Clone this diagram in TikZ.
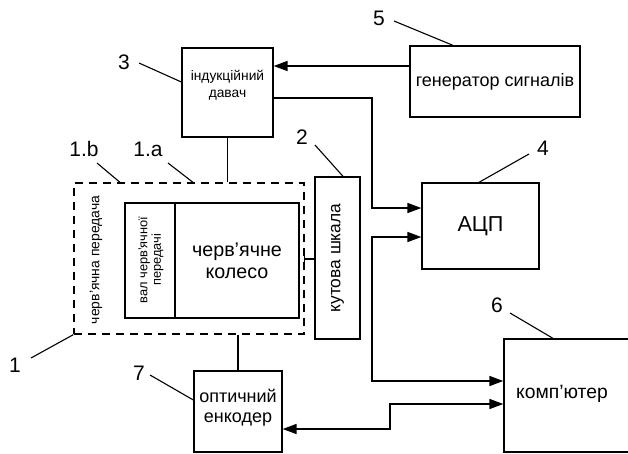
\documentclass[tikz,border=0pt]{standalone}
\usepackage{fontspec}
\setmainfont{Liberation Sans}
\usetikzlibrary{arrows.meta,calc}
\newcommand{\fs}[1]{\fontsize{#1pt}{\dimexpr #1pt*6/5\relax}\selectfont}
\newcommand{\fst}[1]{\fontsize{#1pt}{\dimexpr #1pt*11/10\relax}\selectfont}
\begin{document}
\begin{tikzpicture}[x=1pt,y=-1pt,
  box/.style={draw,line width=1.3pt,inner sep=0pt,align=center},
  txt/.style={inner sep=0pt,align=center},
  lead/.style={line width=1.1pt},
  conn/.style={line width=1.6pt},
  tip/.style={-{Triangle[length=14pt,width=10pt]}},
  tips/.style={{Triangle[length=14pt,width=10pt]}-{Triangle[length=14pt,width=10pt]}},
  num/.style={inner sep=0pt,font=\fs{21}}]
\clip (0,0) rectangle (628,453);
\useasboundingbox (0,0) rectangle (628,453);
% boxes
\node[box,minimum width=91,minimum height=89] (ind) at (227.5,92.5) {};
\node[txt,font=\fs{13.8}] (indt) at (227.5,85) {індукційний\\давач};
\node[box,minimum width=170,minimum height=71,font=\fs{18}] (gen) at (495,81.5) {генератор сигналів};
\node[box,minimum width=117,minimum height=86,font=\fs{21.6}] (adc) at (480.5,226) {АЦП};
\node[box,minimum width=45,minimum height=162] (scale) at (337.5,258) {};
\node[txt,rotate=90,font=\fs{17.4}] (scalet) at (337.5,258) {кутова шкала};
\node[draw,line width=1.3pt,dash pattern=on 8pt off 6pt,minimum width=230,minimum height=151] (gear) at (189,258.5) {};
\node[txt,rotate=90,font=\fs{13.9}] (geart) at (96,260) {черв’ячна передача};
\node[box,minimum width=50,minimum height=115] (shaft) at (150,260.5) {};
\node[txt,rotate=90,font=\fontsize{12.8pt}{13.5pt}\selectfont] (shaftt) at (151,260) {вал черв’ячної\\передачі};
\node[box,minimum width=124,minimum height=115,font=\fst{19.7}] (wheel) at (237,260.5) {черв’ячне\\колесо};
\node[box,minimum width=88,minimum height=81] (enc) at (238,411.5) {};
\node[txt,font=\fst{18}] (enct) at (238,408) {оптичний\\енкодер};
\node[box,minimum width=140,minimum height=113] (comp) at (574,395.5) {};
\node[txt,font=\fs{19.3}] (compt) at (562,394) {комп’ютер};
% level coordinates
\coordinate (y66) at (0,66);
\coordinate (y98) at (0,98);
\coordinate (y208) at (0,208);
\coordinate (y237) at (0,237);
\coordinate (y259) at (0,259);
\coordinate (y381) at (0,381);
\coordinate (y404) at (0,404);
\coordinate (y429) at (0,429);
\coordinate (xa) at (372,0);
\coordinate (xb) at (390,0);
% connectors
\draw[conn,tip] (gen.west |- y66) -- (ind.east |- y66);
\draw[conn,tip] (ind.east |- y98) -- (xa |- y98) -- (xa |- y208) -- (adc.west |- y208);
\draw[conn,tips] (adc.west |- y237) -- (xa |- y237) -- (xa |- y381) -- (comp.west |- y381);
\draw[conn,tips] (enc.east |- y429) -- (xb |- y429) -- (xb |- y404) -- (comp.west |- y404);
\draw[lead] (ind.south) -- (ind.south |- gear.north);
\draw[lead] (enc.north |- gear.south) -- (enc.north);
\draw[lead] (gear.east |- y259) -- (scale.west |- y259);
\draw[lead] ($(gear.east |- y259)+(0,-4)$) -- ($(gear.east |- y259)+(0,4)$);
% labels
\node[num] (n3) at (124,62) {3};
\draw[lead] ($(n3)+(15,1)$) -- (ind.west |- 0,82);
\node[num] (n5) at (379,18) {5};
\draw[lead] ($(n5)+(15,3)$) -- (gen.north -| 453,0);
\node[num] (n2) at (302,137) {2};
\draw[lead] ($(n2)+(13,8)$) -- (scale.north -| 343,0);
\node[num] (n4) at (543,148) {4};
\draw[lead] ($(n4)+(-14,6)$) -- (adc.north -| 479,0);
\node[num] (n1b) at (84,149) {1.b};
\draw[lead] ($(n1b)+(13,14)$) -- (gear.north -| 120,0);
\node[num] (n1a) at (148,149) {1.a};
\draw[lead] ($(n1a)+(20,14)$) -- (gear.north -| 193,0);
\node[num] (n1) at (15,365) {1};
\draw[lead] ($(n1)+(16,-7)$) -- (gear.south west);
\node[num] (n7) at (139,373) {7};
\draw[lead] ($(n7)+(11,2)$) -- (enc.west |- 0,400);
\node[num] (n6) at (497,305) {6};
\draw[lead] ($(n6)+(13,8)$) -- (comp.north -| 553,0);
\end{tikzpicture}
\end{document}
